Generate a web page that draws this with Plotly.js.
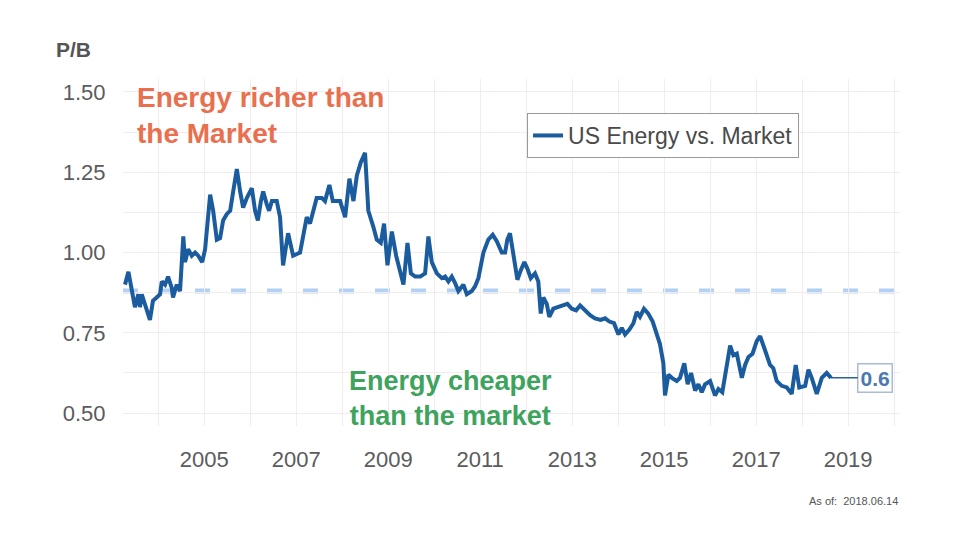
<!DOCTYPE html>
<html>
<head>
<meta charset="utf-8">
<script src="https://cdn.plot.ly/plotly-3.0.1.min.js"></script>
<style>html,body{margin:0;padding:0;background:#fff;}#chart{width:960px;height:540px;}</style>
</head>
<body>
<div id="chart"></div>
<script>
// ---- Data ----
const dates = [
 '2003-04-13','2003-05-10','2003-07-01','2003-07-28','2003-08-10','2003-08-24','2003-10-28','2003-11-21','2003-12-20',
 '2004-01-16','2004-01-30','2004-02-25','2004-03-20','2004-04-18','2004-04-28','2004-05-28','2004-06-23','2004-07-19',
 '2004-08-02','2004-08-26','2004-09-24','2004-10-21','2004-11-14','2004-12-16',
 '2005-01-08','2005-02-17','2005-03-13','2005-04-11','2005-05-07','2005-05-31','2005-06-30','2005-07-26','2005-08-19',
 '2005-09-17','2005-10-13','2005-11-06','2005-12-06',
 '2006-01-14','2006-02-09','2006-03-03','2006-03-27','2006-04-14','2006-05-13','2006-05-31','2006-06-22','2006-07-31',
 '2006-08-26','2006-09-19','2006-10-29','2006-12-08',
 '2007-02-01','2007-02-28','2007-03-26','2007-04-21','2007-06-13','2007-07-23','2007-08-18','2007-09-22','2007-10-19','2007-12-16',
 '2008-01-25','2008-02-28','2008-03-31','2008-04-27','2008-05-28','2008-07-01','2008-07-27','2008-09-05','2008-10-02',
 '2008-11-03','2008-11-29','2008-12-26',
 '2009-01-30','2009-03-05','2009-04-06','2009-05-02','2009-06-03','2009-06-30','2009-08-03','2009-09-12','2009-10-21',
 '2009-11-16','2009-12-13',
 '2010-01-22','2010-03-03','2010-03-29','2010-04-24','2010-05-21','2010-06-16','2010-07-12','2010-08-21','2010-09-17',
 '2010-10-27','2010-11-22','2010-12-18',
 '2011-01-27','2011-03-07','2011-04-11','2011-05-13','2011-06-22','2011-07-18','2011-08-05','2011-08-26','2011-09-22',
 '2011-10-24','2011-11-20','2011-12-18',
 '2012-01-11','2012-02-07','2012-03-12','2012-04-07','2012-04-26','2012-05-17','2012-06-13','2012-07-03','2012-08-04',
 '2012-09-13','2012-10-23','2012-11-24','2012-12-29',
 '2013-02-01','2013-03-05','2013-04-14','2013-05-23','2013-07-01','2013-08-15','2013-09-19','2013-10-23','2013-11-29',
 '2014-01-03','2014-01-30','2014-02-25','2014-03-31','2014-05-02','2014-05-28','2014-06-23','2014-07-25','2014-08-28',
 '2014-10-02','2014-11-03','2014-11-29','2014-12-26',
 '2015-01-08','2015-02-04','2015-03-03','2015-04-11','2015-05-07','2015-06-10','2015-07-07','2015-08-03','2015-09-04',
 '2015-09-30','2015-10-27','2015-11-22',
 '2016-01-01','2016-02-09','2016-03-07','2016-04-07','2016-05-13','2016-06-08','2016-07-04','2016-07-31','2016-09-09',
 '2016-10-05','2016-11-01','2016-12-03',
 '2017-01-06','2017-02-01','2017-03-13','2017-04-21','2017-05-17','2017-06-13','2017-07-23','2017-09-01','2017-10-10',
 '2017-11-11','2017-12-09',
 '2018-01-25','2018-02-20','2018-03-18','2018-04-27','2018-06-06','2018-07-15','2018-08-18'
];
const pbRatio = [
 0.90,0.94,0.83,0.87,0.83,0.87,0.79,0.85,0.86,
 0.87,0.91,0.90,0.925,0.89,0.86,0.90,0.88,1.05,
 0.97,1.01,0.99,1.00,0.99,0.97,
 1.01,1.18,1.13,1.04,1.045,1.10,1.12,1.13,1.19,
 1.26,1.19,1.14,1.17,
 1.20,1.13,1.10,1.16,1.19,1.15,1.13,1.16,1.16,
 1.11,0.96,1.06,0.99,
 1.00,1.05,1.11,1.09,1.17,1.17,1.16,1.21,1.16,1.16,
 1.11,1.23,1.16,1.24,1.28,1.31,1.13,1.08,1.04,
 1.03,1.09,0.96,
 1.065,0.99,0.935,0.90,1.03,0.935,0.925,0.925,0.935,
 1.05,0.97,
 0.935,0.92,0.925,0.91,0.925,0.905,0.88,0.90,0.87,
 0.88,0.895,0.92,
 1.00,1.04,1.055,1.035,1.00,1.00,1.04,1.06,0.99,
 0.915,0.945,0.97,
 0.95,0.92,0.935,0.91,0.81,0.86,0.84,0.80,0.825,
 0.83,0.835,0.84,0.825,
 0.82,0.835,0.82,0.805,0.795,0.79,0.795,0.785,0.78,
 0.745,0.765,0.745,0.76,0.78,0.815,0.80,0.825,0.81,
 0.785,0.75,0.715,0.655,
 0.555,0.62,0.61,0.60,0.61,0.655,0.59,0.625,0.57,
 0.59,0.565,0.59,
 0.60,0.555,0.575,0.565,0.645,0.71,0.68,0.685,0.61,
 0.65,0.675,0.685,
 0.725,0.74,0.695,0.65,0.64,0.60,0.585,0.58,0.56,
 0.65,0.58,
 0.585,0.635,0.61,0.56,0.61,0.625,0.61
];
const averagePB = 0.88;
const seriesName = 'US Energy vs. Market';
const xTickVals = ['2005-01-01','2007-01-01','2009-01-01','2011-01-01','2013-01-01','2015-01-01','2017-01-01','2019-01-01'];
const xTickText = ['2005','2007','2009','2011','2013','2015','2017','2019'];
const yTickVals = [0.50, 0.75, 1.00, 1.25, 1.50];
const asOfText = 'As of:  2018.06.14';

// ---- Styling ----
const FONT = 'Liberation Sans, Arial, sans-serif';
const GRID = '#f2ecef';
const lastIdx = pbRatio.length - 1;

const traces = [{
  type: 'scatter', mode: 'lines', name: seriesName,
  x: dates, y: pbRatio,
  line: {color: '#1b5c9e', width: 4},
  hoverinfo: 'skip'
}];

const layout = {
  width: 960, height: 540,
  margin: {l: 123, r: 60, t: 79, b: 114},
  paper_bgcolor: '#ffffff', plot_bgcolor: '#ffffff',
  font: {family: FONT, color: '#5b5b5b'},
  showlegend: true,
  legend: {
    x: 0.52, y: 0.902, xanchor: 'left', yanchor: 'top',
    bordercolor: '#9a9a9a', borderwidth: 1, bgcolor: '#ffffff',
    font: {family: FONT, size: 23, color: '#4a4a4a'}
  },
  xaxis: {
    type: 'date', range: ['2003-03-28', '2020-02-17'],
    tickvals: xTickVals, ticktext: xTickText,
    showgrid: true, gridcolor: GRID, gridwidth: 1,
    zeroline: false, showline: false,
    ticks: 'outside', ticklen: 14, tickcolor: 'rgba(0,0,0,0)',
    tickfont: {family: FONT, size: 22, color: '#5b5b5b'},
    minor: {dtick: 'M12', tick0: '2004-01-01', showgrid: true, gridcolor: GRID, gridwidth: 1, ticks: ''}
  },
  yaxis: {
    range: [0.46, 1.54],
    tickvals: yTickVals, ticktext: yTickVals.map(v => v.toFixed(2)),
    showgrid: true, gridcolor: GRID, gridwidth: 1,
    zeroline: false, showline: false,
    ticks: 'outside', ticklen: 12, tickcolor: 'rgba(0,0,0,0)',
    tickfont: {family: FONT, size: 22, color: '#5b5b5b'},
    minor: {tick0: 0.5, dtick: 0.125, showgrid: true, gridcolor: GRID, gridwidth: 1, ticks: ''}
  },
  shapes: [{
    type: 'line', xref: 'paper', x0: 0, x1: 1, yref: 'y', y0: averagePB, y1: averagePB,
    line: {color: '#b3d1f4', width: 5, dash: '15px,21px'}, layer: 'below'
  }],
  annotations: [
    {xref: 'paper', yref: 'paper', x: -0.064, y: 1.084, xanchor: 'center', yanchor: 'middle',
     text: '<b>P/B</b>', showarrow: false, font: {family: FONT, size: 21, color: '#555555'}},
    {xref: 'paper', yref: 'paper', x: 0.016, y: 0.997, xanchor: 'left', yanchor: 'top', align: 'left',
     text: '<b>Energy richer than<br>the Market</b>', showarrow: false,
     font: {family: FONT, size: 28, color: '#e8704f'}},
    {xref: 'paper', yref: 'paper', x: 0.421, y: 0.08, xanchor: 'center', yanchor: 'middle', align: 'center',
     text: '<b>Energy cheaper<br>than the market</b>', showarrow: false,
     font: {family: FONT, size: 27, color: '#3da35d'}},
    {xref: 'x', yref: 'y', x: dates[lastIdx], y: pbRatio[lastIdx],
     text: '<b>' + pbRatio[lastIdx].toFixed(1) + '</b>',
     showarrow: true, arrowhead: 0, arrowwidth: 1.5, arrowcolor: '#2f5f91', ax: 44, ay: 0,
     font: {family: FONT, size: 21, color: '#4b79b0'},
     bordercolor: '#a8bcd6', borderwidth: 1.5, borderpad: 2, bgcolor: '#ffffff'},
    {xref: 'paper', yref: 'paper', x: 1.0, y: -0.216, xanchor: 'right', yanchor: 'middle',
     text: asOfText, showarrow: false, font: {family: FONT, size: 11, color: '#555555'}}
  ]
};

Plotly.newPlot('chart', traces, layout, {displayModeBar: false, staticPlot: true});
</script>
</body>
</html>
